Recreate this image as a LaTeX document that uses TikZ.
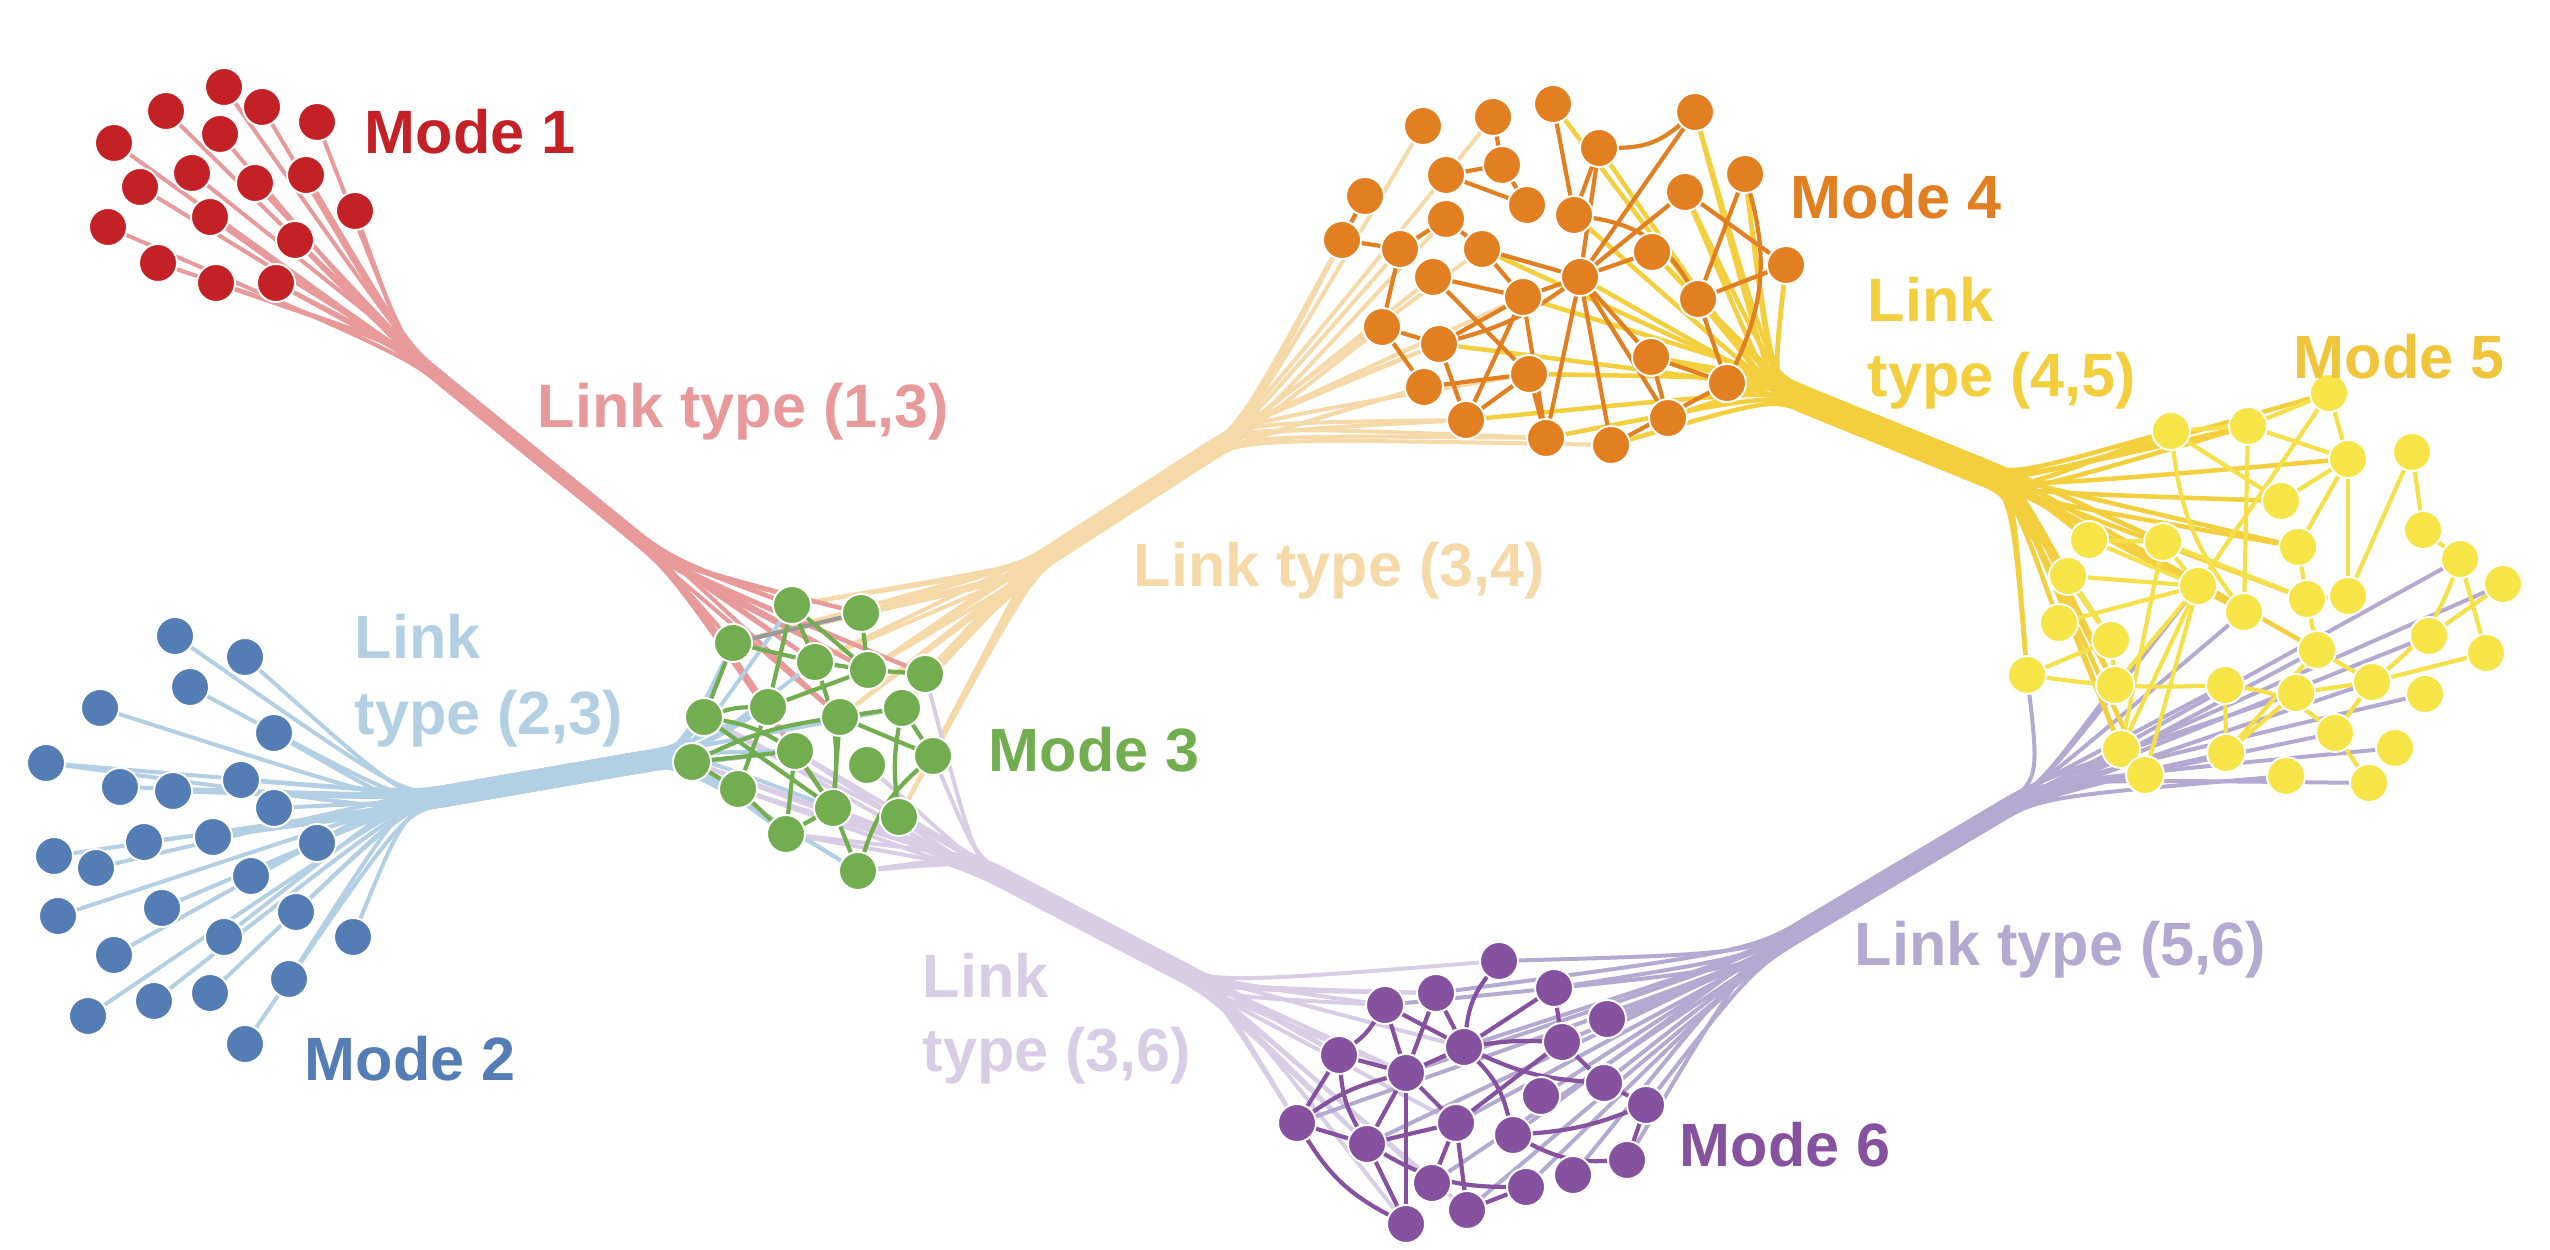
\documentclass[tikz,border=0pt]{standalone}
\usepackage{fontspec}
\setmainfont{Liberation Sans}
\usetikzlibrary{calc}
\definecolor{cMa}{HTML}{C42126}
\definecolor{cLa}{HTML}{E89A9B}
\definecolor{cMb}{HTML}{547DB5}
\definecolor{cLb}{HTML}{B3CFE3}
\definecolor{cMc}{HTML}{72AD4F}
\definecolor{cMd}{HTML}{E17F21}
\definecolor{cLd}{HTML}{F6D9A8}
\definecolor{cMe}{HTML}{F7E447}
\definecolor{cMet}{HTML}{F0C53C}
\definecolor{cLe}{HTML}{F3CF3E}
\definecolor{cEe}{HTML}{F6E04A}
\definecolor{cMf}{HTML}{86519F}
\definecolor{cLf}{HTML}{B4A9D1}
\definecolor{cLg}{HTML}{D9CCE5}
\definecolor{cGray}{HTML}{9A9A9A}
\pgfdeclarelayer{bund}
\pgfdeclarelayer{intra}
\pgfsetlayers{bund,intra,main}
\newcommand\drawbundle[4]{%
  \foreach \a/\b [count=\i] in {#4}{%
    \pgfmathsetmacro\jo{(mod(\i,7)-3)*#3}%
    \draw[#1] (\a.center) .. controls ($(#2ca)+(0,\jo)$) .. ($(#2pa)+(0,\jo)$) -- ($(#2pb)+(0,\jo)$) .. controls ($(#2cb)+(0,\jo)$) .. (\b.center);
  }%
}
\newcommand\drawintra[2]{%
  \foreach \a/\b/\bd in {#2}{\draw[#1] (\a) to[bend left=\bd] (\b);}%
}
\begin{document}
\begin{tikzpicture}[x=0.1mm,y=-0.1mm,
  nd/.style={circle,inner sep=0pt,minimum size=3.8mm,draw=white,line width=0.55pt},
  lbl/.style={anchor=base west,inner sep=0pt,font=\fontsize{17.4}{21}\selectfont\bfseries},
  bl/.style={line width=0.4mm,line cap=round},
  ie/.style={line width=0.42mm,line cap=round}]
\useasboundingbox (0,0) rectangle (2550,1250);
% ---------- nodes ----------
\foreach \n/\x/\y in {r1/224/87, r2/166/111, r3/262/107, r4/317/122, r5/114/143, r6/220/134, r7/192/173, r8/255/183, r9/306/175, r10/140/187, r11/210/217, r12/355/211, r13/108/227, r14/295/240, r15/158/263, r16/216/283, r17/276/283}
  \node[nd,fill=cMa] (\n) at (\x,\y) {};
\foreach \n/\x/\y in {b1/175/636, b2/245/657, b3/190/687, b4/100/708, b5/274/733, b6/46/763, b7/241/780, b8/120/787, b9/173/791, b10/274/808, b11/54/856, b12/144/842, b13/213/837, b14/317/843, b15/96/868, b16/251/876, b17/58/916, b18/162/908, b19/296/912, b20/353/937, b21/114/955, b22/224/937, b23/289/979, b24/88/1016, b25/154/1001, b26/210/993, b27/245/1044}
  \node[nd,fill=cMb] (\n) at (\x,\y) {};
\foreach \n/\x/\y in {g1/792/605, g2/861/613, g3/733/643, g4/815/662, g5/868/670, g6/925/674, g7/704/717, g8/768/707, g9/840/717, g10/902/708, g11/692/762, g12/795/751, g13/933/756, g14/867/765, g15/738/789, g16/833/808, g17/899/817, g18/786/834, g19/858/871}
  \node[nd,fill=cMc] (\n) at (\x,\y) {};
\foreach \n/\x/\y in {o1/1553/104, o2/1695/112, o3/1493/117, o4/1423/126, o5/1599/148, o6/1502/165, o7/1446/175, o8/1745/174, o9/1365/196, o10/1685/192, o11/1527/205, o12/1446/219, o13/1574/215, o14/1342/240, o15/1400/249, o16/1482/249, o17/1652/252, o18/1786/265, o19/1433/277, o20/1580/277, o21/1523/297, o22/1698/299, o23/1382/327, o24/1439/344, o25/1651/357, o26/1529/374, o27/1727/383, o28/1424/387, o29/1668/418, o30/1466/420, o31/1546/438, o32/1611/445}
  \node[nd,fill=cMd] (\n) at (\x,\y) {};
\foreach \n/\x/\y in {y1/2329/393, y2/2171/431, y3/2248/426, y4/2348/459, y5/2412/452, y6/2281/501, y7/2089/540, y8/2163/542, y9/2298/547, y10/2423/530, y11/2460/559, y12/2068/576, y13/2198/586, y14/2307/599, y15/2348/596, y16/2503/584, y17/2244/612, y18/2059/623, y19/2111/640, y20/2429/636, y21/2317/650, y22/2486/653, y23/2027/675, y24/2115/685, y25/2225/685, y26/2296/693, y27/2372/682, y28/2425/694, y29/2335/733, y30/2395/748, y31/2121/749, y32/2226/753, y33/2145/775, y34/2286/776, y35/2369/783}
  \node[nd,fill=cMe] (\n) at (\x,\y) {};
\foreach \n/\x/\y in {p1/1499/961, p2/1436/993, p3/1554/988, p4/1385/1005, p5/1607/1019, p6/1464/1047, p7/1562/1042, p8/1339/1055, p9/1406/1073, p10/1604/1083, p11/1541/1096, p12/1646/1105, p13/1297/1123, p14/1456/1123, p15/1513/1135, p16/1367/1144, p17/1627/1160, p18/1573/1175, p19/1432/1183, p20/1526/1187, p21/1467/1210, p22/1406/1224}
  \node[nd,fill=cMf] (\n) at (\x,\y) {};
% ---------- bundle guide points ----------
\coordinate (kApa) at (445,382);  \coordinate (kApb) at (615,520);
\coordinate (kAca) at (406,350);  \coordinate (kAcb) at (669,564);
\coordinate (kBpa) at (445,796);  \coordinate (kBpb) at (630,764);
\coordinate (kBca) at (404,802);  \coordinate (kBcb) at (680,756);
\coordinate (kCpa) at (1062,547); \coordinate (kCpb) at (1200,458);
\coordinate (kCca) at (1030,568); \coordinate (kCcb) at (1240,432);
\coordinate (kDpa) at (1805,400); \coordinate (kDpb) at (1975,469);
\coordinate (kDca) at (1772,386); \coordinate (kDcb) at (2012,484);
\coordinate (kEpa) at (1010,882); \coordinate (kEpb) at (1165,963);
\coordinate (kEca) at (976,864);  \coordinate (kEcb) at (1212,987);
\coordinate (kFpa) at (1810,925); \coordinate (kFpb) at (1995,815);
\coordinate (kFca) at (1752,960); \coordinate (kFcb) at (2040,788);
% ---------- bundles ----------
\begin{pgfonlayer}{bund}
\drawbundle{bl,cLd}{kC}{3}{g2/o14, g5/o9, g6/o15, g10/o4, g13/o23, g17/o28, g4/o30, g3/o24, g1/o3, g9/o19, g2/o31, g5/o32, g6/o12, g10/o26, g13/o21, g17/o16, g1/o30, g4/o14, g9/o9, g3/o28, g5/o24, g6/o31}
\drawbundle{bl,cLg}{kE}{3}{g7/p4, g11/p8, g15/p13, g18/p2, g12/p9, g16/p16, g19/p22, g13/p6, g17/p1, g14/p19, g6/p21, g7/p14, g15/p4, g18/p8, g12/p13, g19/p9, g16/p2, g11/p16}
\drawbundle{bl,cLa}{kA}{2}{r1/g1, r2/g8, r3/g2, r4/g6, r5/g16, r6/g9, r7/g4, r8/g1, r9/g5, r10/g12, r11/g2, r12/g6, r13/g8, r14/g9, r15/g16, r16/g4, r17/g12, r14/g2, r17/g5, r11/g3, r9/g1}
\drawbundle{bl,cLb}{kB}{3}{b1/g7, b2/g3, b3/g11, b4/g8, b5/g15, b6/g11, b7/g18, b8/g7, b9/g12, b10/g3, b11/g15, b12/g19, b13/g4, b14/g7, b15/g18, b16/g11, b17/g8, b18/g15, b19/g19, b20/g12, b21/g7, b22/g10, b23/g11, b24/g18, b25/g3, b26/g15, b27/g1, b6/g8, b9/g16}
\drawbundle{bl,cLf}{kF}{3}{p1/y23, p3/y24, p5/y31, p7/y33, p10/y32, p12/y34, p17/y35, p18/y30, p15/y28, p11/y16, p14/y20, p20/y27, p21/y21, p2/y26, p6/y25, p9/y17, p16/y13, p13/y11, p19/y29, p4/y32}
\drawbundle{bl,line width=0.45mm,cLe}{kD}{4}{o2/y2, o8/y3, o18/y1, o22/y4, o27/y6, o10/y9, o17/y8, o25/y7, o29/y12, o20/y13, o13/y14, o1/y18, o5/y19, o21/y23, o26/y24, o16/y31, o24/y33, o30/y17, o31/y2, o32/y3, o27/y8, o22/y12, o29/y7, o25/y13, o18/y19, o8/y23, o2/y24, o10/y31, o17/y21, o27/y9}
\end{pgfonlayer}
% ---------- intra-mode edges ----------
\begin{pgfonlayer}{intra}
\draw[ie,cGray] (g3) -- (g2);
\drawintra{ie,cMc}{g3/g4/0, g1/g4/0, g1/g8/0, g1/g5/0, g2/g5/0, g5/g6/0, g4/g5/0, g3/g7/0, g8/g5/0, g7/g8/8, g4/g16/12, g9/g10/0, g9/g13/0, g10/g13/0, g13/g19/-15, g7/g12/10, g11/g12/0, g7/g16/0, g12/g16/0, g15/g18/0, g18/g12/0, g16/g19/0, g9/g16/0, g8/g15/0, g11/g9/8, g18/g16/0, g11/g15/0, g10/g17/-8}
\drawintra{ie,cMd}{o3/o6/0, o6/o7/0, o6/o11/0, o7/o11/0, o12/o15/0, o12/o16/0, o14/o15/0, o15/o23/0, o23/o24/0, o23/o28/0, o1/o13/0, o5/o13/0, o5/o2/-20, o5/o20/0, o2/o20/0, o10/o20/0, o10/o18/0, o8/o22/0, o8/o27/20, o18/o22/0, o22/o27/0, o13/o22/25, o20/o21/0, o16/o21/0, o19/o21/0, o21/o24/0, o20/o32/0, o20/o31/0, o21/o31/0, o25/o27/0, o25/o29/0, o32/o27/0, o30/o26/0, o30/o21/0, o28/o26/0, o24/o20/-10, o26/o31/0, o20/o25/0, o20/o29/0, o14/o9/0, o17/o20/0, o19/o26/0, o24/o30/0, o16/o20/0}
\drawintra{ie,cEe}{y1/y3/0, y1/y4/0, y1/y13/0, y2/y3/0, y3/y4/0, y2/y6/0, y2/y17/-15, y3/y17/0, y4/y6/0, y4/y9/0, y4/y15/0, y5/y10/0, y5/y15/0, y10/y11/0, y11/y27/15, y11/y22/0, y9/y14/0, y8/y14/0, y7/y13/0, y12/y13/0, y12/y19/0, y18/y13/0, y23/y19/0, y23/y25/-5, y14/y21/0, y21/y27/0, y27/y22/0, y27/y29/0, y25/y32/0, y25/y29/15, y29/y35/0, y32/y26/0, y31/y8/0, y33/y13/0, y31/y13/0, y21/y32/0, y20/y16/0, y26/y27/0, y8/y13/0, y7/y8/0, y15/y14/0, y24/y13/0, y19/y24/0}
\drawintra{ie,cMf}{p1/p6/-15, p2/p6/0, p2/p9/0, p4/p9/0, p4/p6/0, p4/p8/10, p3/p7/0, p3/p6/0, p6/p7/5, p8/p9/0, p8/p13/0, p9/p6/0, p8/p16/-12, p9/p16/0, p13/p9/10, p13/p16/0, p13/p22/-15, p9/p22/0, p9/p14/0, p16/p14/0, p14/p21/0, p16/p20/-15, p14/p7/0, p6/p15/15, p10/p6/10, p7/p10/0, p15/p12/-8, p15/p17/-15, p10/p12/0, p12/p17/0, p21/p20/0, p19/p14/0, p16/p22/0}
\end{pgfonlayer}
% ---------- labels ----------
\node[lbl,text=cMa] (tA) at (364,154) {Mode 1};
\node[lbl,text=cLa] (tAC) at (537,428) {Link type (1,3)};
\node[lbl,text=cLb] (tBCa) at (354,659) {Link};
\node[lbl,text=cLb] (tBCb) at (354,735) {type (2,3)};
\node[lbl,text=cMb] (tB) at (304,1081) {Mode 2};
\node[lbl,text=cMc] (tC) at (988,772) {Mode 3};
\node[lbl,text=cLd] (tCD) at (1133,587) {Link type (3,4)};
\node[lbl,text=cMd] (tD) at (1790,219) {Mode 4};
\node[lbl,text=cLe] (tDEa) at (1867,322) {Link};
\node[lbl,text=cLe] (tDEb) at (1867,397) {type (4,5)};
\node[lbl,text=cMet] (tE) at (2293,379) {Mode 5};
\node[lbl,text=cLf] (tEF) at (1854,966) {Link type (5,6)};
\node[lbl,text=cLg] (tCFa) at (922,998) {Link};
\node[lbl,text=cLg] (tCFb) at (922,1072) {type (3,6)};
\node[lbl,text=cMf] (tF) at (1679,1166) {Mode 6};
\end{tikzpicture}
\end{document}
